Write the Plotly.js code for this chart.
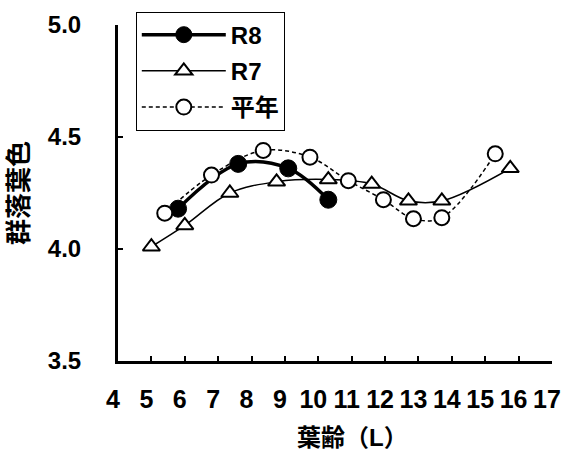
<!DOCTYPE html>
<html>
<head>
<meta charset="utf-8">
<script src="https://cdn.plot.ly/plotly-3.0.1.min.js"></script>
<style>html,body{margin:0;padding:0;background:#fff;}#chart{width:565px;height:451px;}</style>
</head>
<body>
<div id="chart"></div>
<script>
const r8Age = [5.8, 7.6, 9.1, 10.3];
const r8Val = [4.18, 4.38, 4.36, 4.22];
const r7Age = [5.0, 6.0, 7.35, 8.75, 10.3, 11.6, 12.7, 13.7, 15.75];
const r7Val = [4.01, 4.105, 4.25, 4.30, 4.31, 4.29, 4.215, 4.215, 4.36];
const avgAge = [5.4, 6.8, 8.35, 9.75, 10.9, 11.95, 12.85, 13.7, 15.3];
const avgVal = [4.16, 4.33, 4.44, 4.41, 4.305, 4.22, 4.135, 4.14, 4.425];
const xTicks = [4,5,6,7,8,9,10,11,12,13,14,15,16,17];
const yTicks = [3.5, 4.0, 4.5, 5.0];
const names = ['R8', 'R7', '平年'];
const xTitle = '葉齢（L）';
const yTitle = '群落葉色';

const fontLat = 'Liberation Sans, Arial, sans-serif';
const fontCJK = 'Liberation Sans, Noto Sans CJK JP, sans-serif';

const traces = [
  {x: r8Age, y: r8Val, name: names[0], legendgroup: 'a', mode: 'lines+markers',
   line: {color: '#000', width: 3.5, shape: 'spline', smoothing: 1},
   marker: {symbol: 'circle', size: 17, color: '#000', line: {color: '#000', width: 1}}},
  {x: r7Age, y: r7Val, name: names[1], legendgroup: 'b', mode: 'lines+markers',
   line: {color: '#000', width: 1.5, shape: 'spline', smoothing: 1},
   marker: {symbol: 'triangle-up', size: 15, color: '#fff', line: {color: '#000', width: 2}}},
  {x: avgAge, y: avgVal, name: names[2], legendgroup: 'c', mode: 'lines+markers',
   line: {color: '#000', width: 1.5, dash: '4px,3px', shape: 'spline', smoothing: 1},
   marker: {symbol: 'circle', size: 15, color: '#fff', line: {color: '#000', width: 2}}}
];

const layout = {
  width: 565, height: 451,
  margin: {l: 118, r: 13, t: 23, b: 90},
  paper_bgcolor: '#fff', plot_bgcolor: '#fff',
  showlegend: true,
  legend: {x: 0.041, y: 1.04, xanchor: 'left', yanchor: 'top',
    bordercolor: '#000', borderwidth: 1, bgcolor: '#fff',
    font: {family: fontCJK, size: 24, color: '#000', weight: 'bold'},
    tracegroupgap: 2, itemwidth: 84},
  xaxis: {range: [4, 17], tickvals: xTicks, ticktext: xTicks.map(String),
    showgrid: false, zeroline: false, showline: true, linecolor: '#000', linewidth: 3,
    ticks: 'inside', ticklen: 5, tickwidth: 2, tickcolor: '#000',
    ticklabelstandoff: 14, ticklabelshift: -5,
    tickfont: {family: fontLat, size: 25, color: '#000', weight: 'bold'}},
  yaxis: {range: [3.5, 5.0], tickvals: yTicks, ticktext: yTicks.map(v => v.toFixed(1)),
    showgrid: false, zeroline: false, showline: true, linecolor: '#000', linewidth: 3,
    ticks: 'inside', ticklen: 5, tickwidth: 2, tickcolor: '#000',
    ticklabelstandoff: 29,
    tickfont: {family: fontLat, size: 24, color: '#000', weight: 'bold'},
    title: {text: yTitle, font: {family: fontCJK, size: 26, color: '#000', weight: 'bold'}, standoff: 12}},
  annotations: [
    {text: xTitle, xref: 'paper', yref: 'paper', x: 0.541, y: 0, xanchor: 'center', yanchor: 'middle',
     yshift: -76, showarrow: false,
     font: {family: fontCJK, size: 24, color: '#000', weight: 'bold'}}
  ]
};

Plotly.newPlot('chart', traces, layout, {displayModeBar: false, staticPlot: true});
</script>
</body>
</html>
